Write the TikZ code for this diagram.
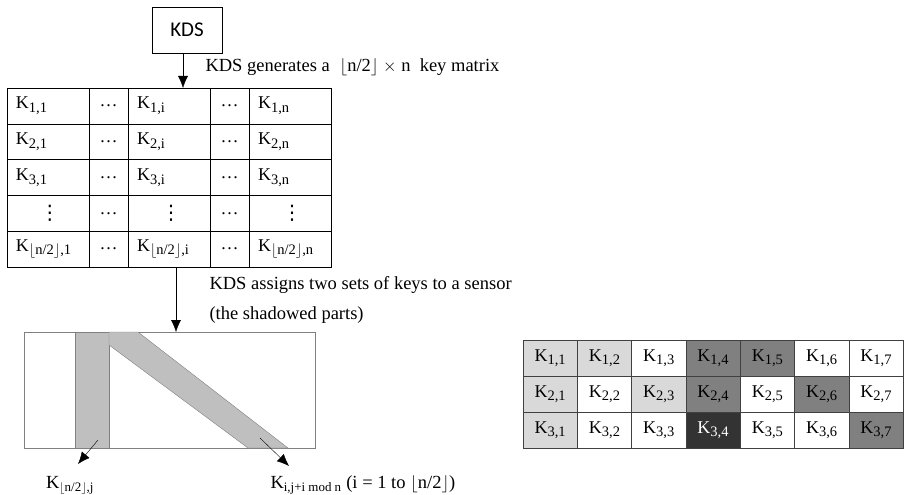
\documentclass[tikz,border=0pt]{standalone}
\usepackage{fontspec}
\setmainfont{Liberation Serif}
\newfontfamily\kdsfont{Carlito}
\newfontfamily\symfont{DejaVu Sans}
\usepackage{tikz}
\usetikzlibrary{arrows.meta,positioning}
\newcommand{\halfn}{$\lfloor$n/2$\rfloor$}
\newcommand{\kk}[1]{K\raisebox{-3.5pt}{\fontsize{14.5}{15}\selectfont #1}}
\newcommand{\vd}{{\symfont\fontsize{20}{20}\selectfont ⋮}}

\begin{document}
\begin{tikzpicture}[x=1pt,y=-1pt,>={Latex[length=12pt,width=10pt]}, every node/.style={font=\fontsize{18.5}{21}\selectfont}]
\tikzstyle{cell}=[draw, outer sep=0pt, inner xsep=0pt, inner ysep=0pt, minimum height=35.8pt, align=left, font=\fontsize{18}{20}\selectfont]
\tikzstyle{wide}=[inner xsep=5pt, text width=72pt, align=left, execute at begin node=\hspace*{4pt}]
\tikzstyle{gap}=[text width=39pt, align=center]
\tikzstyle{key}=[draw=black!75, outer sep=0pt, inner sep=0pt, minimum width=54.3pt, minimum height=36pt, font=\fontsize{18}{20}\selectfont]
\tikzstyle{lite}=[fill=black!15]
\tikzstyle{mid}=[fill=black!50]
\tikzstyle{dark}=[fill=black!80, text=white]
\tikzstyle{band}=[fill=black!25, draw=black!50]
\useasboundingbox (0,0) rectangle (905,495);
% key distribution server
\node[draw, font=\kdsfont\fontsize{21}{23}\selectfont, minimum width=70pt, minimum height=46pt] (kds) at (187,30) {KDS};
\node[anchor=west] (gen) at (202,67) {KDS generates a \;\halfn\ $\times$ n \ key matrix};
% key matrix
\node[cell, wide, anchor=north west] (a11) at (7,88) {\kk{1,1}};
\node[cell, gap, right=0pt of a11] (a12) {\dots};
\node[cell, wide, right=0pt of a12] (a13) {\kk{1,i}};
\node[cell, gap, right=0pt of a13] (a14) {\dots};
\node[cell, wide, right=0pt of a14] (a15) {\kk{1,n}};
\node[cell, wide, below=0pt of a11] (a21) {\kk{2,1}};
\node[cell, gap, right=0pt of a21] (a22) {\dots};
\node[cell, wide, right=0pt of a22] (a23) {\kk{2,i}};
\node[cell, gap, right=0pt of a23] (a24) {\dots};
\node[cell, wide, right=0pt of a24] (a25) {\kk{2,n}};
\node[cell, wide, below=0pt of a21] (a31) {\kk{3,1}};
\node[cell, gap, right=0pt of a31] (a32) {\dots};
\node[cell, wide, right=0pt of a32] (a33) {\kk{3,i}};
\node[cell, gap, right=0pt of a33] (a34) {\dots};
\node[cell, wide, right=0pt of a34] (a35) {\kk{3,n}};
\node[cell, wide, align=center, below=0pt of a31] (a41) {\vd};
\node[cell, gap, right=0pt of a41] (a42) {\dots};
\node[cell, wide, align=center, right=0pt of a42] (a43) {\vd};
\node[cell, gap, right=0pt of a43] (a44) {\dots};
\node[cell, wide, align=center, right=0pt of a44] (a45) {\vd};
\node[cell, wide, below=0pt of a41] (a51) {\kk{\halfn,1}};
\node[cell, gap, right=0pt of a51] (a52) {\dots};
\node[cell, wide, right=0pt of a52] (a53) {\kk{\halfn,i}};
\node[cell, gap, right=0pt of a53] (a54) {\dots};
\node[cell, wide, right=0pt of a54] (a55) {\kk{\halfn,n}};
\draw[->] ([xshift=-4pt]kds.south) -- ([xshift=-4pt]kds.south |- a13.north);
% sensor
\node[anchor=west] (assign) at (206,285) {KDS assigns two sets of keys to a sensor};
\node[anchor=west] (shadow) at (206,315) {(the shadowed parts)};
\node[draw=black!50, outer sep=0pt, minimum width=291pt, minimum height=116pt, anchor=north west] (sensor) at (24,332) {};
\filldraw[band] (75,332) rectangle (109,448);
\filldraw[band] (109,332) -- (138,332) -- (288,448) -- (248,448) -- (109,345) -- cycle;
\draw[->] ([xshift=7pt]a53.south) -- ([xshift=7pt]a53.south |- sensor.north);
\coordinate (p1) at (98,440);
\coordinate (q1) at (78,464);
\coordinate (p2) at (260,438);
\coordinate (q2) at (289,466);
\node (kj) at (70,485) {K\textsubscript{\halfn,j}};
\node[anchor=west] (kmod) at (267,485) {K\textsubscript{i,j+i mod n} (i = 1 to \halfn)};
\draw[->] (p1) -- (q1);
\draw[->] (p2) -- (q2);
% example for n = 7
\node[key, lite, anchor=north west] (r11) at (523,340) {\kk{1,1}};
\node[key, lite, right=0pt of r11] (r12) {\kk{1,2}};
\node[key, right=0pt of r12] (r13) {\kk{1,3}};
\node[key, mid, right=0pt of r13] (r14) {\kk{1,4}};
\node[key, mid, right=0pt of r14] (r15) {\kk{1,5}};
\node[key, right=0pt of r15] (r16) {\kk{1,6}};
\node[key, right=0pt of r16] (r17) {\kk{1,7}};
\node[key, lite, below=0pt of r11] (r21) {\kk{2,1}};
\node[key, right=0pt of r21] (r22) {\kk{2,2}};
\node[key, lite, right=0pt of r22] (r23) {\kk{2,3}};
\node[key, mid, right=0pt of r23] (r24) {\kk{2,4}};
\node[key, right=0pt of r24] (r25) {\kk{2,5}};
\node[key, mid, right=0pt of r25] (r26) {\kk{2,6}};
\node[key, right=0pt of r26] (r27) {\kk{2,7}};
\node[key, lite, below=0pt of r21] (r31) {\kk{3,1}};
\node[key, right=0pt of r31] (r32) {\kk{3,2}};
\node[key, right=0pt of r32] (r33) {\kk{3,3}};
\node[key, dark, right=0pt of r33] (r34) {\kk{3,4}};
\node[key, right=0pt of r34] (r35) {\kk{3,5}};
\node[key, right=0pt of r35] (r36) {\kk{3,6}};
\node[key, mid, right=0pt of r36] (r37) {\kk{3,7}};
\end{tikzpicture}
\end{document}
